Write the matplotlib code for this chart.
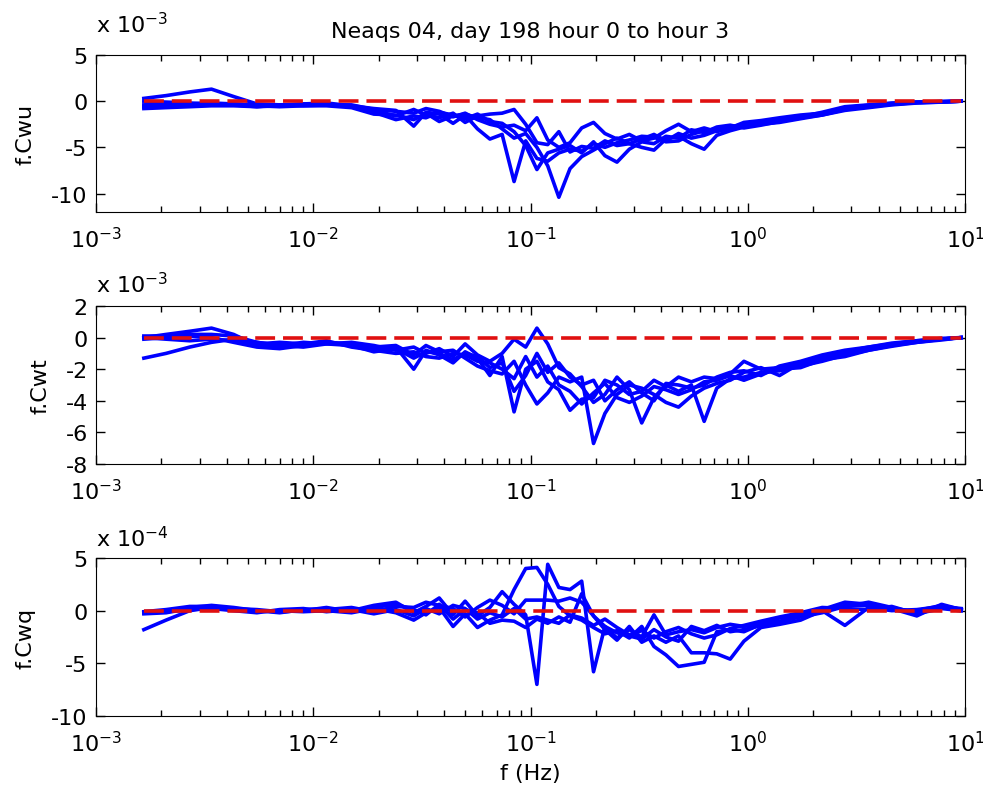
import numpy as np
import matplotlib
matplotlib.use('Agg')
import matplotlib.pyplot as plt

# frequency bands (Hz) of the cospectra
freq = [0.00166, 0.0021, 0.0027, 0.0034, 0.0043, 0.0055, 0.007, 0.009, 0.0115, 0.015,
        0.019, 0.024, 0.029, 0.033, 0.038, 0.044, 0.05, 0.057, 0.065, 0.074,
        0.084, 0.095, 0.107, 0.12, 0.135, 0.152, 0.172, 0.195, 0.22, 0.25,
        0.285, 0.325, 0.37, 0.42, 0.48, 0.55, 0.63, 0.72, 0.83, 0.96,
        1.15, 1.4, 1.75, 2.2, 2.8, 3.6, 4.6, 6.0, 7.8, 9.6]

# f.Cwu, units of 1e-3, one list per run
cwu = [
    [0.3, 0.6, 1.0, 1.3, 0.5, -0.3, -0.4, -0.3, -0.4, -0.5, -0.8, -1.0, -2.7, -1.2, -1.4, -2.4, -1.5, -3.0, -4.1, -3.6,
     -8.7, -4.3, -6.2, -6.5, -5.6, -5.2, -5.4, -4.6, -5.0, -4.5, -4.2, -3.8, -3.9, -4.4, -4.3, -3.6, -3.2, -3.0, -2.8, -2.5,
     -2.3, -2.0, -1.7, -1.4, -0.8, -0.5, -0.3, -0.15, -0.05, 0.0],
    [0.0, -0.1, -0.2, -0.3, -0.4, -0.6, -0.5, -0.4, -0.3, -0.6, -1.0, -1.6, -0.9, -1.5, -1.8, -1.3, -2.3, -1.6, -1.4, -1.3,
     -0.9, -2.5, -4.5, -4.7, -3.3, -5.5, -4.9, -5.1, -4.3, -4.8, -4.6, -5.0, -5.3, -4.1, -3.8, -4.6, -5.2, -3.7, -3.2, -2.8,
     -2.5, -2.3, -1.9, -1.5, -1.0, -0.7, -0.4, -0.2, -0.1, 0.0],
    [-0.4, -0.3, -0.3, -0.2, -0.3, -0.5, -0.6, -0.5, -0.4, -0.4, -0.9, -1.1, -1.3, -0.8, -1.1, -1.7, -1.3, -2.0, -2.5, -2.8,
     -2.6, -3.2, -1.8, -4.2, -5.0, -4.5, -2.9, -2.3, -3.5, -4.1, -3.6, -4.3, -4.0, -3.2, -2.5, -3.3, -2.9, -3.3, -2.9, -2.3,
     -2.1, -1.8, -1.5, -1.3, -0.7, -0.45, -0.25, -0.1, -0.05, 0.0],
    [-0.6, -0.5, -0.4, -0.4, -0.3, -0.4, -0.5, -0.3, -0.2, -0.5, -1.2, -2.0, -1.6, -1.8, -1.2, -1.5, -1.9, -1.4, -2.2, -2.4,
     -3.3, -4.8, -7.4, -5.6, -5.2, -4.8, -5.6, -4.4, -5.9, -6.6, -5.2, -4.4, -4.6, -3.8, -4.0, -3.1, -3.4, -2.8, -2.6, -2.9,
     -2.6, -2.2, -1.8, -1.5, -0.9, -0.6, -0.35, -0.15, -0.1, 0.0],
    [-0.8, -0.7, -0.6, -0.5, -0.5, -0.6, -0.4, -0.5, -0.5, -0.7, -1.4, -1.5, -2.0, -1.3, -2.2, -1.6, -1.4, -1.8, -2.0, -3.0,
     -4.0, -3.5, -5.0, -7.0, -10.4, -7.3, -6.0, -5.3, -4.6, -4.0, -4.6, -4.1, -3.6, -4.3, -3.5, -4.0, -3.7, -3.2, -3.0, -2.6,
     -2.2, -2.0, -1.7, -1.2, -0.6, -0.4, -0.2, -0.1, -0.05, 0.0],
]

# f.Cwt, units of 1e-3
cwt = [
    [0.0, 0.2, 0.4, 0.6, 0.2, -0.5, -0.6, -0.4, -0.3, -0.5, -0.7, -0.6, -2.0, -0.8, -1.1, -1.6, -0.9, -1.3, -2.4, -1.2,
     -4.7, -2.0, -1.5, -2.8, -3.3, -4.6, -3.9, -3.8, -2.7, -3.0, -3.6, -3.4, -2.7, -3.1, -2.5, -2.8, -2.5, -2.6, -2.3, -1.5,
     -2.0, -1.9, -1.7, -1.3, -1.0, -0.7, -0.45, -0.25, -0.1, 0.0],
    [0.1, 0.1, 0.2, 0.2, 0.1, -0.3, -0.5, -0.6, -0.4, -0.3, -0.5, -0.8, -0.6, -1.0, -0.7, -1.2, -0.4, -1.1, -1.5, -1.0,
     -0.1, -0.6, 0.6, -0.4, -1.9, -2.3, -3.1, -4.1, -3.6, -2.5, -3.3, -5.4, -3.8, -3.0, -3.4, -3.0, -5.3, -3.2, -2.6, -2.5,
     -2.2, -2.1, -1.8, -1.5, -1.1, -0.8, -0.5, -0.3, -0.15, 0.0],
    [-0.1, 0.0, 0.1, 0.0, -0.3, -0.6, -0.7, -0.5, -0.3, -0.4, -0.6, -0.5, -1.1, -0.5, -0.9, -0.8, -1.3, -1.8, -2.1, -2.3,
     -1.5, -3.0, -4.2, -3.5, -2.5, -2.8, -2.5, -6.7, -4.8, -3.6, -3.0, -3.2, -3.6, -4.1, -4.4, -3.7, -3.2, -2.9, -2.7, -2.2,
     -1.9, -2.4, -1.6, -1.2, -0.9, -0.6, -0.4, -0.2, -0.1, 0.0],
    [0.0, -0.1, -0.2, -0.1, -0.2, -0.4, -0.3, -0.4, -0.2, -0.6, -0.8, -1.0, -0.9, -1.2, -1.3, -1.0, -1.1, -1.5, -1.6, -2.0,
     -2.6, -1.2, -2.5, -1.8, -3.0, -3.4, -4.2, -3.5, -2.9, -3.8, -4.1, -3.7, -3.1, -3.3, -3.6, -3.3, -2.8, -2.7, -2.4, -2.7,
     -2.3, -2.0, -1.9, -1.4, -1.2, -0.8, -0.55, -0.3, -0.1, 0.0],
    [-1.3, -1.0, -0.6, -0.3, -0.1, -0.3, -0.5, -0.3, -0.4, -0.5, -0.9, -0.7, -1.3, -0.9, -1.0, -1.4, -1.0, -1.2, -1.9, -1.6,
     -3.4, -2.4, -1.0, -2.2, -1.6, -2.5, -3.0, -2.7, -4.0, -3.3, -2.8, -3.5, -4.0, -2.9, -3.0, -3.2, -3.0, -2.5, -2.2, -2.1,
     -2.4, -1.8, -1.5, -1.1, -0.8, -0.6, -0.35, -0.2, -0.05, 0.0],
]

# f.Cwq, units of 1e-4
cwq = [
    [-0.2, 0.0, 0.3, 0.5, 0.3, 0.0, -0.2, 0.1, 0.2, 0.0, 0.5, 0.8, -0.2, 0.4, 1.2, -0.4, 0.9, -0.5, 0.3, 1.8,
     0.6, -0.4, -7.0, 4.4, 2.2, 2.0, 2.8, -5.8, -1.5, -2.6, -1.8, -2.5, -0.4, -2.3, -2.0, -1.8, -2.1, -1.6, -1.3, -1.5,
     -1.2, -0.7, -0.4, 0.1, 0.8, 0.6, 0.2, -0.5, 0.6, 0.1],
    [-0.3, -0.2, 0.2, 0.3, 0.1, -0.1, 0.0, -0.1, 0.0, -0.2, 0.2, -0.2, -0.9, -0.2, 0.3, -1.5, -0.3, -1.6, -0.9, -0.4,
     2.0, 4.0, 4.1, 2.5, 0.4, -0.5, -0.9, -1.6, -2.2, -1.9, -2.6, -1.5, -3.4, -4.2, -5.3, -5.1, -4.9, -2.0, -1.8, -2.0,
     -1.3, -1.0, -0.6, -0.2, 0.4, 0.8, 0.3, -0.2, 0.3, 0.0],
    [-0.1, 0.1, 0.4, 0.4, 0.2, 0.1, -0.1, 0.0, 0.1, 0.3, -0.1, 0.4, 0.3, 0.8, 0.5, 0.2, -0.6, 0.3, 1.0, 0.5,
     -0.3, 1.0, 1.0, 1.0, 0.9, 1.2, 0.8, -0.5, -1.8, -2.8, -1.5, -3.0, -2.4, -3.0, -2.4, -4.0, -4.0, -4.1, -4.6, -2.9,
     -1.6, -1.3, -0.9, 0.0, -1.4, 0.3, 0.0, 0.1, 0.4, 0.2],
    [-0.2, -0.1, 0.1, 0.2, 0.0, -0.2, 0.1, 0.2, -0.1, 0.1, -0.3, 0.1, -0.5, 0.2, -0.3, 0.5, 0.2, -0.8, -0.2, -0.6,
     0.2, -0.8, -0.6, -0.9, -1.2, -0.4, -0.7, -1.4, -0.8, -1.6, -2.3, -1.9, -2.6, -2.0, -1.6, -2.2, -2.6, -2.3, -1.7, -1.4,
     -1.0, -0.6, -0.2, 0.3, 0.2, 0.1, 0.4, -0.3, 0.2, 0.0],
    [-1.8, -0.9, 0.0, 0.3, 0.1, 0.0, -0.1, 0.0, 0.3, -0.1, 0.3, 0.6, 0.1, -0.4, 0.6, -0.8, 0.1, -0.2, -1.2, -0.9,
     -1.0, -1.6, -0.8, -1.2, -0.6, -1.1, 1.6, -0.5, -1.5, -2.1, -2.4, -2.7, -1.8, -2.5, -2.9, -1.5, -1.9, -1.4, -2.0, -1.8,
     -1.4, -1.1, -0.5, -0.1, 0.5, 0.5, 0.1, 0.0, 0.5, 0.1],
]

plt.rcParams['font.family'] = 'DejaVu Sans'
plt.rcParams['font.size'] = 16
plt.rcParams['axes.unicode_minus'] = False

panels = [
    (cwu, 'f.Cwu', -3, (-12, 5), [-10, -5, 0, 5], 0.146),
    (cwt, 'f.Cwt', -3, (-8, 2), [-8, -6, -4, -2, 0, 2], 0.089),
    (cwq, 'f.Cwq', -4, (-10, 5), [-10, -5, 0, 5], 0.076),
]
boxes = [[0.0977, 0.7347, 0.884, 0.1956],
         [0.0977, 0.4209, 0.884, 0.1968],
         [0.0977, 0.1071, 0.884, 0.1968]]

fig = plt.figure(figsize=(9.83, 8.03), dpi=100)
axes = []
for (runs, name, expo, lims, ticks, off), box in zip(panels, boxes):
    ax = fig.add_axes(box)
    for run in runs:
        ax.plot(freq, run, color='#0000ff', lw=2.6)
    # zero reference drawn over the runs
    ax.plot(freq, np.zeros(len(freq)), color='#e01010', lw=2.6, dashes=(5.5, 2.2))
    ax.set_xscale('log')
    ax.set_xlim(1e-3, 10)
    ax.set_ylim(*lims)
    ax.set_yticks(ticks)
    ax.tick_params(which='both', direction='in', top=True, right=True)
    ax.tick_params(which='major', length=6.5, width=1)
    ax.tick_params(which='minor', length=4, width=1)
    ax.tick_params(axis='x', pad=10)
    ax.tick_params(axis='y', pad=6)
    ax.set_ylabel(name, labelpad=11)
    ax.text(0.0, 1 + off, r'x $\mathdefault{10^{%d}}$' % expo, transform=ax.transAxes,
            ha='left', va='baseline', fontsize=16)
    axes.append(ax)

axes[0].set_title('Neaqs 04, day 198 hour 0 to hour 3', fontsize=16, pad=13)
axes[2].set_xlabel('f (Hz)', labelpad=6)
fig.align_ylabels(axes)

fig.savefig('out.png', dpi=100)
